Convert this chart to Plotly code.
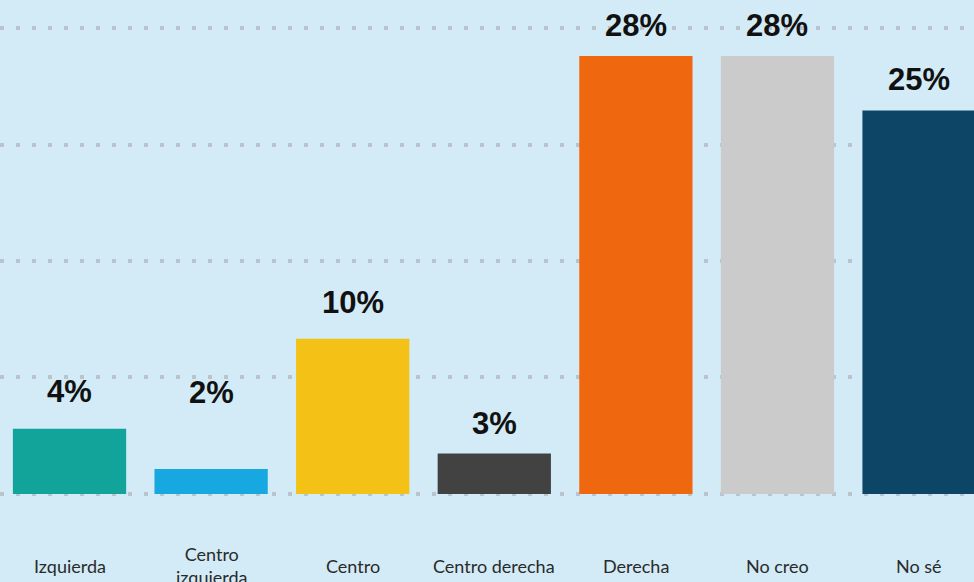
import plotly.graph_objects as go

categories = ["Izquierda", "Centro<br>izquierda", "Centro", "Centro derecha", "Derecha", "No creo", "No sé"]
values = [4.2, 1.6, 10.0, 2.6, 28.2, 28.2, 24.7]
labels = ["4%", "2%", "10%", "3%", "28%", "28%", "25%"]
colors = ["#12a39a", "#17a8e1", "#f4c116", "#424242", "#ef670f", "#cbcbcb", "#0d4566"]
grid_vals = [0, 7.5, 15, 22.5, 30]

bg = "#d2ebf7"

fig = go.Figure(go.Bar(x=list(range(len(categories))), y=values, marker_color=colors,
                       marker_line_width=0, width=0.8))

# label nudges (pixels) where the source lifted a label higher than the rest
label_shift = {1: 57, 0: 18, 2: 17}
for i, (v, t) in enumerate(zip(values, labels)):
    fig.add_annotation(x=i, y=v, text="<b>" + t + "</b>", showarrow=False, yanchor="bottom",
                       yshift=label_shift.get(i, 11),
                       font=dict(family="Liberation Sans, Arial", size=31, color="#111111"))
    fig.add_annotation(x=i, y=0, text=categories[i], showarrow=False, yanchor="middle",
                       yshift=-72, font=dict(family="Lato, Open Sans", size=18, color="#2a2a2a"))

fig.update_layout(
    width=974, height=582,
    margin=dict(l=0, r=0, t=27, b=87),
    paper_bgcolor=bg, plot_bgcolor=bg,
    showlegend=False,
    xaxis=dict(range=[-0.491, 6.388], showticklabels=False, showgrid=False, zeroline=False),
    yaxis=dict(range=[-0.07, 30.07], tickvals=grid_vals, showticklabels=False, showgrid=True,
               gridcolor="#bac4ca", gridwidth=4, griddash="4px,12px", zeroline=False),
)

fig.write_html("out.html", config={"displayModeBar": False},
               post_script="document.body.style.margin='0';")
